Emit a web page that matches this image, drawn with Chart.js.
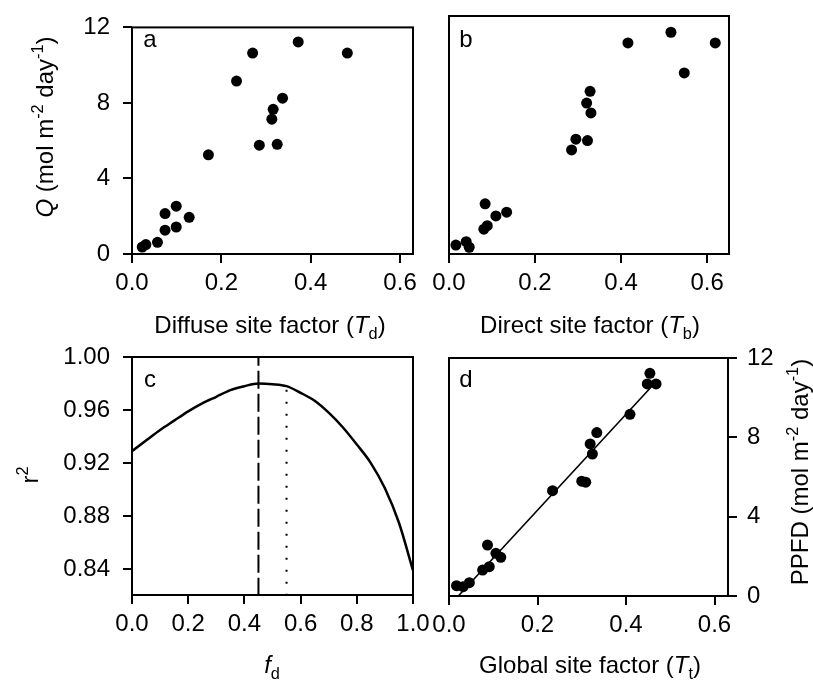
<!DOCTYPE html>
<html>
<head>
<meta charset="utf-8">
<title>Site factors and PPFD</title>
<script src="https://cdn.jsdelivr.net/npm/chart.js@4.4.0/dist/chart.umd.min.js"></script>
<style>
  html, body { margin: 0; padding: 0; background: #fff; }
  #wrap { position: relative; width: 813px; height: 682px; }
  #wrap canvas { position: absolute; left: 0; top: 0; }
</style>
</head>
<body>
<div id="wrap">
  <canvas id="panelA" width="813" height="682"></canvas>
  <canvas id="panelB" width="813" height="682"></canvas>
  <canvas id="panelC" width="813" height="682"></canvas>
  <canvas id="panelD" width="813" height="682"></canvas>
</div>
<script>
// ---- data ----
// (a) diffuse site factor vs daily Q
const tdValues = [0.372, 0.270, 0.482, 0.234, 0.337, 0.316, 0.313, 0.285, 0.325, 0.171, 0.099, 0.074, 0.128, 0.099, 0.074, 0.057, 0.031, 0.023];
const qA = [11.23, 10.64, 10.64, 9.16, 8.25, 7.66, 7.14, 5.76, 5.81, 5.25, 2.53, 2.14, 1.94, 1.43, 1.26, 0.62, 0.50, 0.37];

// (b) direct site factor vs daily Q
const tbValues = [0.516, 0.416, 0.619, 0.547, 0.328, 0.320, 0.330, 0.295, 0.322, 0.285, 0.084, 0.134, 0.109, 0.089, 0.081, 0.040, 0.047, 0.016];
const qB = [11.18, 10.64, 10.64, 9.13, 8.20, 7.61, 7.11, 5.79, 5.72, 5.25, 2.53, 2.11, 1.92, 1.43, 1.25, 0.62, 0.34, 0.45];

// (c) r2 of the fit against the diffuse fraction fd
const fdValues = [0, 0.05, 0.1, 0.15, 0.2, 0.25, 0.3, 0.35, 0.4, 0.45, 0.5, 0.55, 0.6, 0.65, 0.7, 0.75, 0.8, 0.85, 0.9, 0.95, 1.0];
const r2Values = [0.929, 0.937, 0.945, 0.952, 0.959, 0.965, 0.970, 0.975, 0.978, 0.980, 0.9795, 0.978, 0.973, 0.967, 0.958, 0.947, 0.934, 0.920, 0.901, 0.875, 0.839];
const fdBest = 0.45;      // dashed line
const fdMeasured = 0.55;  // dotted line
const fdMeasuredR2 = 0.978;

// (d) global site factor vs PPFD, with fitted line
const ttValues = [0.454, 0.448, 0.468, 0.409, 0.334, 0.319, 0.324, 0.300, 0.309, 0.234, 0.087, 0.106, 0.117, 0.091, 0.076, 0.046, 0.032, 0.017];
const qD = [11.23, 10.69, 10.69, 9.16, 8.24, 7.67, 7.16, 5.79, 5.74, 5.31, 2.57, 2.15, 1.95, 1.48, 1.31, 0.67, 0.47, 0.52];
const fitX = [0.021, 0.458];
const fitY = [0, 10.56];

// tick labels
const siteTicks = [0, 0.2, 0.4, 0.6];
const qTicks = [0, 4, 8, 12];
const fdTicks = [0, 0.2, 0.4, 0.6, 0.8, 1.0];
const r2Ticks = [0.84, 0.88, 0.92, 0.96, 1.00];

// ---- layout ----
const W = 813, H = 682;
const YW = 100, XH = 60;
const FONT = '"Liberation Sans", Arial, Helvetica, sans-serif';
const TICK_SIZE = 24;
const TITLE_SIZE = 24;

function pts(xs, ys) {
  return xs.map((x, i) => ({ x: x, y: ys[i] }));
}

function layoutFor(box, axisLeft, axisRight) {
  return {
    padding: {
      left: axisLeft ? box.left - YW : box.left,
      right: axisRight ? W - box.right - YW : W - box.right,
      top: box.top,
      bottom: H - box.bottom - XH
    }
  };
}

function fixedTicks(list) {
  return (scale) => { scale.ticks = list.map(v => ({ value: v })); };
}

function axis(opts) {
  const horizontal = opts.horizontal;
  const shown = opts.display !== false;
  return {
    type: 'linear',
    position: opts.position,
    display: shown,
    min: opts.min,
    max: opts.max,
    afterBuildTicks: fixedTicks(opts.ticks || []),
    afterFit: (s) => {
      if (!shown) return;
      if (horizontal) s.height = XH; else s.width = YW;
    },
    border: { display: false },
    grid: {
      display: true,
      drawOnChartArea: false,
      drawTicks: true,
      tickLength: 9,
      color: '#000',
      lineWidth: 2
    },
    ticks: {
      autoSkip: false,
      maxRotation: 0,
      color: '#000',
      padding: horizontal ? 6 : (opts.position === 'right' ? 10 : 13),
      font: { family: FONT, size: TICK_SIZE },
      callback: opts.fmt
    }
  };
}

// draws a string made of parts (italic, sub- and superscripts) centred on x, y
function drawRich(ctx, parts, x, y, rot, size) {
  const fontOf = (p) => {
    const s = (p.sub || p.sup) ? size * 0.68 : size;
    return (p.i ? 'italic ' : '') + (p.b ? 'bold ' : '') + s + 'px ' + FONT;
  };
  let total = 0;
  parts.forEach(p => { ctx.font = fontOf(p); total += ctx.measureText(p.t).width; });
  ctx.save();
  ctx.translate(x, y);
  ctx.rotate(rot || 0);
  ctx.fillStyle = '#000';
  ctx.textBaseline = 'alphabetic';
  ctx.textAlign = 'left';
  let cx = -total / 2;
  const base = size * 0.36;
  parts.forEach(p => {
    ctx.font = fontOf(p);
    let dy = base;
    if (p.sub) dy += size * 0.28;
    if (p.sup) dy -= size * 0.42;
    ctx.fillText(p.t, cx, dy);
    cx += ctx.measureText(p.t).width;
  });
  ctx.restore();
}

const panelDecor = {
  id: 'panelDecor',
  afterDraw(chart, args, opts) {
    const ctx = chart.ctx;
    const a = chart.chartArea;
    ctx.save();
    ctx.strokeStyle = '#000';
    ctx.lineWidth = 2;
    ctx.strokeRect(a.left, a.top, a.right - a.left, a.bottom - a.top);
    ctx.restore();
    (opts.texts || []).forEach(t => drawRich(ctx, t.parts, t.x, t.y, t.rot, t.size || TITLE_SIZE));
  }
};
Chart.register(panelDecor);

const dotStyle = { pointRadius: 5.5, pointHoverRadius: 5.5, pointBackgroundColor: '#000', pointBorderWidth: 0, showLine: false };
const baseOpts = {
  responsive: false,
  animation: false,
  events: [],
  plugins: { legend: { display: false }, tooltip: { enabled: false } }
};
const fmt1 = (v) => v.toFixed(1);
const fmt0 = (v) => v.toFixed(0);
const fmt2 = (v) => v.toFixed(2);
const upRot = -Math.PI / 2;

// (a)
const boxA = { left: 132, top: 16, right: 413, bottom: 254 };
new Chart(document.getElementById('panelA'), {
  type: 'scatter',
  data: { datasets: [Object.assign({ data: pts(tdValues, qA) }, dotStyle)] },
  options: Object.assign({}, baseOpts, {
    layout: layoutFor(boxA, true, false),
    scales: {
      x: axis({ horizontal: true, position: 'bottom', min: 0, max: 0.629, ticks: siteTicks, fmt: fmt1 }),
      y: axis({ position: 'left', min: 0, max: 12, ticks: qTicks, fmt: fmt0 })
    },
    plugins: Object.assign({}, baseOpts.plugins, {
      panelDecor: { texts: [
        { x: 150, y: 38, parts: [{ t: 'a' }] },
        { x: 270, y: 324, parts: [{ t: 'Diffuse site factor (' }, { t: 'T', i: true }, { t: 'd', sub: true }, { t: ')' }] },
        { x: 44, y: 127, rot: upRot, parts: [{ t: 'Q', i: true }, { t: ' (mol m' }, { t: '-2', sup: true }, { t: ' day' }, { t: '-1', sup: true }, { t: ')' }] }
      ] }
    })
  })
});

// (b)
const boxB = { left: 449, top: 16, right: 729, bottom: 254 };
new Chart(document.getElementById('panelB'), {
  type: 'scatter',
  data: { datasets: [Object.assign({ data: pts(tbValues, qB) }, dotStyle)] },
  options: Object.assign({}, baseOpts, {
    layout: layoutFor(boxB, false, false),
    scales: {
      x: axis({ horizontal: true, position: 'bottom', min: 0, max: 0.651, ticks: siteTicks, fmt: fmt1 }),
      y: axis({ position: 'left', display: false, min: 0, max: 12, ticks: qTicks, fmt: fmt0 })
    },
    plugins: Object.assign({}, baseOpts.plugins, {
      panelDecor: { texts: [
        { x: 466, y: 38, parts: [{ t: 'b' }] },
        { x: 590, y: 324, parts: [{ t: 'Direct site factor (' }, { t: 'T', i: true }, { t: 'b', sub: true }, { t: ')' }] }
      ] }
    })
  })
});

// (c)
const boxC = { left: 132, top: 357, right: 413, bottom: 595 };
new Chart(document.getElementById('panelC'), {
  type: 'scatter',
  data: { datasets: [
    { data: pts(fdValues, r2Values), showLine: true, borderColor: '#000', borderWidth: 2.5, pointRadius: 0, cubicInterpolationMode: 'monotone' },
    { data: pts([fdBest, fdBest], [0.82, 1.0]), showLine: true, borderColor: '#000', borderWidth: 2, borderDash: [18, 5], pointRadius: 0 },
    { data: pts([fdMeasured, fdMeasured], [0.82, fdMeasuredR2]), showLine: true, borderColor: '#000', borderWidth: 2, borderDash: [2, 10], pointRadius: 0 }
  ] },
  options: Object.assign({}, baseOpts, {
    layout: layoutFor(boxC, true, false),
    scales: {
      x: axis({ horizontal: true, position: 'bottom', min: 0, max: 1.0, ticks: fdTicks, fmt: fmt1 }),
      y: axis({ position: 'left', min: 0.8205, max: 1.0, ticks: r2Ticks, fmt: fmt2 })
    },
    plugins: Object.assign({}, baseOpts.plugins, {
      panelDecor: { texts: [
        { x: 150, y: 378, parts: [{ t: 'c' }] },
        { x: 272, y: 664, parts: [{ t: 'f', i: true }, { t: 'd', sub: true }] },
        { x: 29, y: 475, rot: upRot, parts: [{ t: 'r' }, { t: '2', sup: true }] }
      ] }
    })
  })
});

// (d)
const boxD = { left: 449, top: 358, right: 728, bottom: 596 };
new Chart(document.getElementById('panelD'), {
  type: 'scatter',
  data: { datasets: [
    { data: pts(fitX, fitY), showLine: true, borderColor: '#000', borderWidth: 1.6, pointRadius: 0 },
    Object.assign({ data: pts(ttValues, qD) }, dotStyle)
  ] },
  options: Object.assign({}, baseOpts, {
    layout: layoutFor(boxD, false, true),
    scales: {
      x: axis({ horizontal: true, position: 'bottom', min: 0, max: 0.6305, ticks: siteTicks, fmt: fmt1 }),
      y: axis({ position: 'right', min: 0, max: 12, ticks: qTicks, fmt: fmt0 })
    },
    plugins: Object.assign({}, baseOpts.plugins, {
      panelDecor: { texts: [
        { x: 466, y: 378, parts: [{ t: 'd' }] },
        { x: 590, y: 664, parts: [{ t: 'Global site factor (' }, { t: 'T', i: true }, { t: 't', sub: true }, { t: ')' }] },
        { x: 799, y: 472, rot: upRot, parts: [{ t: 'PPFD (mol m' }, { t: '-2', sup: true }, { t: ' day' }, { t: '-1', sup: true }, { t: ')' }] }
      ] }
    })
  })
});
</script>
</body>
</html>
